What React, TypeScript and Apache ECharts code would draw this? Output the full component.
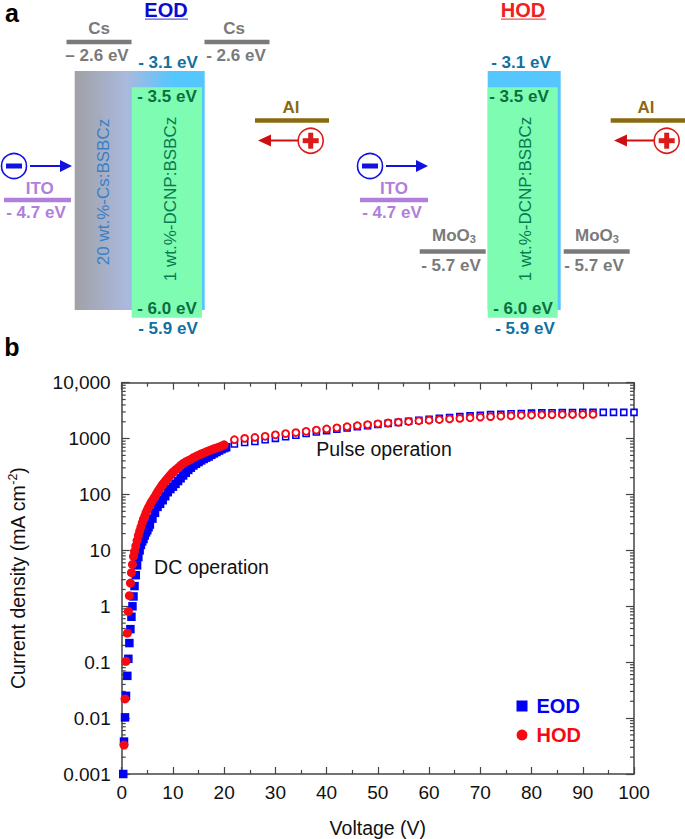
import React, { useEffect, useRef } from "react";
import * as echarts from "echarts";

const eodDcV = [0.3,0.45,0.65,0.84,1.1,1.3,1.5,1.7,1.9,2.1,2.3,2.5,2.75,3,3.25,3.5,3.75,4,4.25,4.5,4.75,5,5.25,5.5,6,6.5,7,7.5,8,8.5,9,9.5,10,10.5,11,11.5,12,12.5,13,13.5,14,14.5,15,15.5,16,16.5,17,17.5,18,18.5,19,19.5,20,20.4];
const eodDcJ = [0.001,0.0038,0.0103,0.025,0.057,0.115,0.22,0.39,0.65,1,1.5,2.3,3.6,5.4,7.6,10,12.5,14.5,16,18.5,21,23,26,29,37,47,60,68,79,93,110,125,138,155,174,195,219,245,275,302,331,355,380,407,432,457,479,513,543,575,610,645,676,700];
const hodDcV = [0.45,0.65,0.84,1.1,1.3,1.5,1.7,1.9,2.1,2.3,2.5,2.75,3,3.25,3.5,3.75,4,4.25,4.5,4.75,5,5.25,5.5,5.75,6,6.25,6.5,6.75,7,7.25,7.5,7.75,8,8.25,8.5,8.75,9,9.25,9.5,9.75,10,10.5,11,11.5,12,12.5,13,13.5,14,14.5,15,15.5,16,16.5,17,17.5,18,18.5,19,19.5,20];
const hodDcJ = [0.0033,0.022,0.104,0.33,0.81,1.55,2.6,4,5.6,7.8,9.6,12,15,18.5,22,26,31,36,41,47,53,59,65,72,78,85,92,101,110,120,130,141,151,162,173,184,196,208,222,236,250,275,300,330,360,385,405,425,455,480,505,530,555,580,605,630,655,680,705,735,775];
const eodPulseV = [22,24,26,28,30,32,34,36,38,40,42,44,46,48,50,52,54,56,58,60,62,64,66,68,70,72,74,76,78,80,82,84,86,88,90,92,94,96,98,100];
const eodPulseJ = [800,850,890,955,1010,1080,1150,1230,1310,1390,1470,1550,1630,1710,1790,1870,1950,2040,2130,2220,2310,2390,2470,2550,2620,2680,2730,2780,2820,2850,2880,2900,2920,2930,2950,2950,2950,2950,2950,2950];
const hodPulseV = [22,24,26,28,30,32,34,36,38,40,42,44,46,48,50,52,54,56,58,60,62,64,66,68,70,72,74,76,78,80,82,84,86,88,90,92];
const hodPulseJ = [955,1010,1050,1100,1170,1230,1280,1350,1420,1490,1560,1630,1700,1770,1840,1900,1960,2020,2080,2140,2190,2250,2300,2360,2420,2470,2520,2560,2610,2640,2660,2680,2690,2700,2700,2710];
const yTickLabels = ["0.001","0.01","0.1","1","10","100","1000","10,000"];
const minorDecades = [0.001,0.01,0.1,1,10,100,1000];
const minorMantissas = [2,3,4,5,6,7,8,9];

const zip = (a: number[], b: number[]) => a.map((v, i) => [v, b[i]]);
const FONT = "'Liberation Sans', Arial, sans-serif";
const AXIS = "#444444";
const BLUE = "#0000f5";
const RED = "#f50a14";
const GRAY = "#7a7a7a";
const CYAN = "#12709f";
const GREEN = "#0a6e40";
const PURPLE = "#b07fdc";
const BROWN = "#8a6a10";

const label = (text: string, x: number, y: number, fill: string, size = 17, weight: any = "bold") => ({
  type: "text", x, y,
  style: { text, fill, font: `${weight} ${size}px ${FONT}`, align: "center", verticalAlign: "middle" },
});
const bar = (x1: number, x2: number, y: number, fill: string) => ({
  type: "rect", shape: { x: x1, y: y - 2.2, width: x2 - x1, height: 4.4 }, style: { fill },
});
const box = (x: number, y: number, width: number, height: number, fill: any) => ({
  type: "rect", shape: { x, y, width, height }, style: { fill },
});
const vtext = (text: string, x: number, y: number, fill: string) => ({
  type: "text", x, y, rotation: Math.PI / 2,
  style: { text, fill, font: `normal 17px ${FONT}`, align: "center", verticalAlign: "middle" },
});
const hline = (x1: number, x2: number, y: number, stroke: string) => ({
  type: "line", shape: { x1, y1: y, x2, y2: y }, style: { stroke, lineWidth: 2 },
});
const head = (tip: number, back: number, y: number, fill: string) => ({
  type: "polygon", shape: { points: [[tip, y], [back, y - 6], [back, y + 6]] }, style: { fill },
});
const charge = (cx: number, cy: number, color: string, plus: boolean) => {
  const items: any[] = [
    { type: "circle", shape: { cx, cy, r: 12.5 }, style: { fill: "#fff", stroke: color, lineWidth: 1.6 } },
    box(cx - 8, cy - 2.5, 16, 5, color),
  ];
  if (plus) items.push(box(cx - 2.5, cy - 8, 5, 16, color));
  return items;
};
const moo3 = (x: number, y: number) => ({
  type: "text", x, y,
  style: {
    text: "{m|MoO}{s|3}", align: "center", verticalAlign: "middle",
    rich: {
      m: { fill: GRAY, font: `bold 17px ${FONT}` },
      s: { fill: GRAY, font: `bold 11px ${FONT}`, padding: [8, 0, 0, 0] },
    },
  },
});

const gradientFill = new echarts.graphic.LinearGradient(0, 0, 1, 0, [
  { offset: 0, color: "#a0a1a5" },
  { offset: 0.4, color: "#aab9de" },
  { offset: 0.75, color: "#56c6ff" },
  { offset: 1, color: "#56c6ff" },
]);

const schematic: any[] = [
  label("a", 12, 12.5, "#000", 25),
  label("b", 12, 347, "#000", 25),
  label("EOD", 166, 10, "#0a0ad2", 20),
  box(145, 18.4, 43, 1.4, "#5a5ae0"),
  label("HOD", 523, 10, "#f02020", 20),
  box(501, 18.4, 45, 1.4, "#f05050"),

  box(74.7, 71, 130, 239, gradientFill),
  box(131.7, 87.3, 70.3, 230.4, "#7efcb2"),
  box(487.7, 71, 73, 239, "#56c6ff"),
  box(487.7, 87.3, 70, 230.4, "#7efcb2"),

  vtext("20 wt.%-Cs:BSBCz", 103, 192, "#3a80c8"),
  vtext("1 wt.%-DCNP:BSBCz", 170, 199, "#0a7a50"),
  vtext("1 wt.%-DCNP:BSBCz", 525, 199, "#0a7a50"),

  label("Cs", 99, 28, GRAY), bar(66.5, 131.5, 42, GRAY), label("– 2.6 eV", 97, 55, GRAY),
  label("Cs", 234, 28, GRAY), bar(204.5, 269.5, 42, GRAY), label("- 2.6 eV", 236, 55, GRAY),
  label("- 3.1 eV", 168, 62, CYAN), label("- 3.1 eV", 521, 62, CYAN),
  label("- 3.5 eV", 167, 96, GREEN), label("- 3.5 eV", 519, 96, GREEN),
  label("- 6.0 eV", 167, 308, GREEN), label("- 6.0 eV", 523, 308, GREEN),
  label("- 5.9 eV", 168, 328, CYAN), label("- 5.9 eV", 525, 328, CYAN),

  label("Al", 291, 107, BROWN), bar(255, 329, 120.5, BROWN),
  label("Al", 646, 107, BROWN), bar(610.7, 685, 120.5, BROWN),
  hline(268, 298, 140.5, "#cc1010"), head(258, 271, 140.5, "#cc1010"), ...charge(310.7, 140.7, "#dd1a1a", true),
  hline(624, 654, 140.5, "#cc1010"), head(614, 627, 140.5, "#cc1010"), ...charge(666.7, 140.7, "#dd1a1a", true),

  hline(30, 62, 166, "#1212e0"), head(72, 60, 166, "#1212e0"), ...charge(14, 166, "#1212e0", false),
  hline(386, 418, 166, "#1212e0"), head(428, 416, 166, "#1212e0"), ...charge(370, 166, "#1212e0", false),

  label("ITO", 39.7, 188, PURPLE), bar(4, 71, 200, PURPLE), label("- 4.7 eV", 36, 212, PURPLE),
  label("ITO", 394, 188, PURPLE), bar(360, 428, 200, PURPLE), label("- 4.7 eV", 392, 212, PURPLE),

  moo3(454, 235), bar(419.7, 485.7, 251.5, GRAY), label("- 5.7 eV", 451, 265, GRAY),
  moo3(597, 235), bar(563.7, 629.7, 251.5, GRAY), label("- 5.7 eV", 594, 265, GRAY),

  label("DC operation", 211.5, 567, "#111", 19.5, "normal"),
  label("Pulse operation", 384, 449, "#111", 19.5, "normal"),
];

const minorTicks: number[] = [];
minorDecades.forEach((d) => minorMantissas.forEach((m) => minorTicks.push(d * m)));

const renderMinor = (_: any, api: any) => {
  const v = api.value(1);
  const l = api.coord([0, v]);
  const r = api.coord([100, v]);
  const style = { stroke: AXIS, lineWidth: 1.2 };
  return {
    type: "group",
    children: [
      { type: "line", shape: { x1: l[0], y1: l[1], x2: l[0] + 4, y2: l[1] }, style },
      { type: "line", shape: { x1: r[0], y1: r[1], x2: r[0] - 4, y2: r[1] }, style },
    ],
  };
};

export default function App() {
  const ref = useRef<HTMLDivElement>(null);
  useEffect(() => {
    const chart = echarts.init(ref.current!, undefined, { renderer: "svg" });
    const xBase = {
      type: "value", min: 0, max: 100, interval: 10, splitLine: { show: false },
      axisLine: { show: true, onZero: false, lineStyle: { color: AXIS, width: 1.5 } },
      axisTick: { show: true, inside: true, length: 7, lineStyle: { color: AXIS, width: 1.2 } },
      minorTick: { show: true, splitNumber: 2, length: 4, lineStyle: { color: AXIS, width: 1.2 } },
    };
    const yBase = {
      type: "log", logBase: 10, min: 0.001, max: 10000, splitLine: { show: false }, minorSplitLine: { show: false },
      axisLine: { show: true, onZero: false, lineStyle: { color: AXIS, width: 1.5 } },
      axisTick: { show: true, inside: true, length: 8, lineStyle: { color: AXIS, width: 1.2 } },
    };
    chart.setOption({
      animation: false,
      backgroundColor: "#fff",
      textStyle: { fontFamily: FONT },
      grid: { left: 121.7, right: 51, top: 382.7, bottom: 65, containLabel: false, outerBoundsMode: "none" },
      xAxis: [
        {
          ...xBase, position: "bottom", name: "Voltage (V)", nameLocation: "middle", nameGap: 44,
          nameTextStyle: { color: "#111", fontSize: 19.5, fontFamily: FONT },
          axisLabel: { color: "#111", fontSize: 19, margin: 9, fontFamily: FONT },
        },
        { ...xBase, position: "top", axisLabel: { show: false } },
      ],
      yAxis: [
        {
          ...yBase, position: "left", nameLocation: "middle", nameGap: 93, nameRotate: 90,
          name: "{t|Current density (mA cm}{u|-2}{t|)}",
          nameTextStyle: {
            rich: {
              t: { fontSize: 19.5, color: "#111", fontFamily: FONT },
              u: { fontSize: 12.5, color: "#111", fontFamily: FONT, padding: [0, 0, 9, 0] },
            },
          },
          axisLabel: {
            color: "#111", fontSize: 19, margin: 11, fontFamily: FONT,
            formatter: (v: number) => yTickLabels[Math.round(Math.log10(v)) + 3],
          },
        },
        { ...yBase, position: "right", axisLabel: { show: false } },
      ],
      legend: {
        orient: "vertical", left: 516.5, top: 696, itemWidth: 9, itemHeight: 9, itemGap: 9, padding: 0,
        selectedMode: false,
        data: [
          { name: "EOD", icon: "rect", itemStyle: { color: BLUE }, textStyle: { color: BLUE, fontSize: 20, fontWeight: "bold", fontFamily: FONT, padding: [0, 0, 0, 5] } },
          { name: "HOD", icon: "circle", itemStyle: { color: RED }, textStyle: { color: RED, fontSize: 20, fontWeight: "bold", fontFamily: FONT, padding: [0, 0, 0, 5] } },
        ],
      },
      graphic: schematic,
      series: [
        {
          type: "custom", name: "minor ticks", coordinateSystem: "cartesian2d", xAxisIndex: 0, yAxisIndex: 0,
          data: minorTicks.map((v) => [0, v]), encode: { x: 0, y: 1 }, renderItem: renderMinor, silent: true, clip: false, z: 3,
        },
        {
          type: "scatter", name: "EOD", data: zip(eodPulseV, eodPulseJ), symbol: "rect", symbolSize: 6,
          itemStyle: { color: "#fff", borderColor: BLUE, borderWidth: 1.6, opacity: 1 }, clip: false, z: 4,
        },
        {
          type: "scatter", name: "EOD", data: zip(eodDcV, eodDcJ), symbol: "rect", symbolSize: 8.5,
          itemStyle: { color: BLUE, opacity: 1 }, clip: false, z: 4,
        },
        {
          type: "scatter", name: "HOD", data: zip(hodPulseV, hodPulseJ), symbol: "circle", symbolSize: 6.8,
          itemStyle: { color: "#fff", borderColor: RED, borderWidth: 1.9, opacity: 1 }, clip: false, z: 5,
        },
        {
          type: "scatter", name: "HOD", data: zip(hodDcV, hodDcJ), symbol: "circle", symbolSize: 9,
          itemStyle: { color: RED, opacity: 1 }, clip: false, z: 5,
        },
      ],
    });
    return () => chart.dispose();
  }, []);
  return <div ref={ref} style={{ position: "absolute", left: 0, top: 0, width: 685, height: 839 }} />;
}
